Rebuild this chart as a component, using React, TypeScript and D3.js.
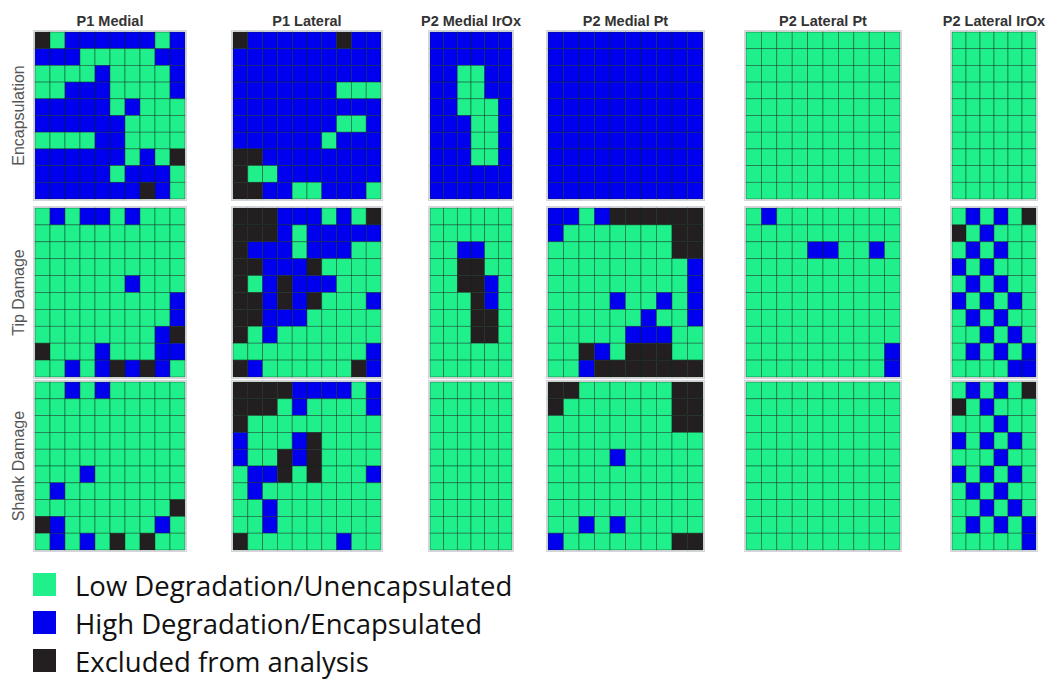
import React from 'react';
import * as d3 from 'd3';

// G = low degradation / unencapsulated, B = high degradation / encapsulated, K = excluded
const columns = ['P1 Medial', 'P1 Lateral', 'P2 Medial IrOx', 'P2 Medial Pt', 'P2 Lateral Pt', 'P2 Lateral IrOx'];
const measures = ['Encapsulation', 'Tip Damage', 'Shank Damage'];
const legendLabels = ['Low Degradation/Unencapsulated', 'High Degradation/Encapsulated', 'Excluded from analysis'];
const legendCodes = ['G', 'B', 'K'];

const p1MedialEnc = [
  'KGBBBBBBGB',
  'BBBGGGGGBB',
  'GGGGBGGGGB',
  'GGBBBGGGGB',
  'BBBBBGBGGG',
  'BBBBBBGGGG',
  'GGGGBBGGGG',
  'BBBBBBGBGK',
  'BBBBBGBBBG',
  'BBBBBBBKBG',
];
const p1MedialTip = [
  'GBGBBGBGGG',
  'GGGGGGGGGG',
  'GGGGGGGGGG',
  'GGGGGGGGGG',
  'GGGGGGBGGG',
  'GGGGGGGGGB',
  'GGGGGGGGGB',
  'GGGGGGGGBK',
  'KGGGBGGGBB',
  'GGBGBKBKBG',
];
const p1MedialShank = [
  'GGBGBGGGGG',
  'GGGGGGGGGG',
  'GGGGGGGGGG',
  'GGGGGGGGGG',
  'GGGGGGGGGG',
  'GGGBGGGGGG',
  'GBGGGGGGGG',
  'GGGGGGGGGK',
  'KBGGGGGGBG',
  'GBGBGKGKGG',
];
const p1LateralEnc = [
  'KBBBBBBKBB',
  'BBBBBBBBBB',
  'BBBBBBBBBB',
  'BBBBBBBGGG',
  'BBBBBBBBBB',
  'BBBBBBBGGB',
  'BBBBBBGBBB',
  'KKBBBBBBBB',
  'KGGBBBBBBB',
  'KKBBGGBBBG',
];
const p1LateralTip = [
  'KKKBBBGBGK',
  'KKKBGBBBBB',
  'KBBBGBBBGG',
  'KKBBBKGGGG',
  'KGBKBBBGGG',
  'KKBKBKGGGB',
  'KKBBBGGGGG',
  'KGBGGGGGGG',
  'GGGGGGGGGB',
  'KBGGGGGGKB',
];
const p1LateralShank = [
  'KKKKBBBBGB',
  'KKKGBGGGGB',
  'KGGGGGGGGG',
  'BGGGBKGGGG',
  'BGGKBKGGGG',
  'GBBKGKGGGB',
  'GBGGGGGGGG',
  'GGBGGGGGGG',
  'GGBGGGGGGG',
  'KGGGGGGBGG',
];
const p2MedialIrOxEnc = [
  'BBBBBB',
  'BBBBBB',
  'BBGGBB',
  'BBGGBB',
  'BBGGGB',
  'BBBGGB',
  'BBBGGB',
  'BBBGGB',
  'BBBBBB',
  'BBBBBB',
];
const p2MedialIrOxTip = [
  'GGGGGG',
  'GGGGGG',
  'GGBBGG',
  'GGKKGG',
  'GGKKBG',
  'GGGKBG',
  'GGGKKG',
  'GGGKKG',
  'GGGGGG',
  'GGGGGG',
];
const p2MedialIrOxShank = [
  'GGGGGG',
  'GGGGGG',
  'GGGGGG',
  'GGGGGG',
  'GGGGGG',
  'GGGGGG',
  'GGGGGG',
  'GGGGGG',
  'GGGGGG',
  'GGGGGG',
];
const p2MedialPtEnc = [
  'BBBBBBBBBB',
  'BBBBBBBBBB',
  'BBBBBBBBBB',
  'BBBBBBBBBB',
  'BBBBBBBBBB',
  'BBBBBBBBBB',
  'BBBBBBBBBB',
  'BBBBBBBBBB',
  'BBBBBBBBBB',
  'BBBBBBBBBB',
];
const p2MedialPtTip = [
  'BBGBKKKKKK',
  'BGGGGGGGKK',
  'GGGGGGGGKK',
  'GGGGGGGGGB',
  'GGGGGGGGGB',
  'GGGGBGGBGB',
  'GGGGGGBGGB',
  'GGGGGBBBGG',
  'GGKBGKKKGG',
  'GGBKKKKKKK',
];
const p2MedialPtShank = [
  'KKGGGGGGKK',
  'KGGGGGGGKK',
  'GGGGGGGGKK',
  'GGGGGGGGGG',
  'GGGGBGGGGG',
  'GGGGGGGGGG',
  'GGGGGGGGGG',
  'GGGGGGGGGG',
  'GGBGBGGGGG',
  'BGGGGGGGKK',
];
const p2LateralPtEnc = [
  'GGGGGGGGGG',
  'GGGGGGGGGG',
  'GGGGGGGGGG',
  'GGGGGGGGGG',
  'GGGGGGGGGG',
  'GGGGGGGGGG',
  'GGGGGGGGGG',
  'GGGGGGGGGG',
  'GGGGGGGGGG',
  'GGGGGGGGGG',
];
const p2LateralPtTip = [
  'GBGGGGGGGG',
  'GGGGGGGGGG',
  'GGGGBBGGBG',
  'GGGGGGGGGG',
  'GGGGGGGGGG',
  'GGGGGGGGGG',
  'GGGGGGGGGG',
  'GGGGGGGGGG',
  'GGGGGGGGGB',
  'GGGGGGGGGB',
];
const p2LateralPtShank = [
  'GGGGGGGGGG',
  'GGGGGGGGGG',
  'GGGGGGGGGG',
  'GGGGGGGGGG',
  'GGGGGGGGGG',
  'GGGGGGGGGG',
  'GGGGGGGGGG',
  'GGGGGGGGGG',
  'GGGGGGGGGG',
  'GGGGGGGGGG',
];
const p2LateralIrOxEnc = [
  'GGGGGG',
  'GGGGGG',
  'GGGGGG',
  'GGGGGG',
  'GGGGGG',
  'GGGGGG',
  'GGGGGG',
  'GGGGGG',
  'GGGGGG',
  'GGGGGG',
];
const p2LateralIrOxTip = [
  'GBGBGK',
  'KGBGGG',
  'GBGBGG',
  'BGBGGG',
  'GBGBGG',
  'BGBGBG',
  'GBGBGG',
  'GGBGBG',
  'GBGBGB',
  'GGGGBB',
];
const p2LateralIrOxShank = [
  'GBGBGK',
  'KGBGGG',
  'GGGBGG',
  'BGBGBG',
  'GGGBGG',
  'BGBGBG',
  'GBGBGG',
  'GGBGBG',
  'GBGBGB',
  'GGGGGB',
];

const grids = [
  [p1MedialEnc, p1LateralEnc, p2MedialIrOxEnc, p2MedialPtEnc, p2LateralPtEnc, p2LateralIrOxEnc],
  [p1MedialTip, p1LateralTip, p2MedialIrOxTip, p2MedialPtTip, p2LateralPtTip, p2LateralIrOxTip],
  [p1MedialShank, p1LateralShank, p2MedialIrOxShank, p2MedialPtShank, p2LateralPtShank, p2LateralIrOxShank],
];

const colors: Record<string, string> = { G: '#20f08c', B: '#0000ee', K: '#231f20' };

// panel layout
const colX = [35, 233, 430, 548, 746, 952];
const colW = [150, 148, 82, 155, 154, 84];
const rowY = [32, 208, 382];
const rowH = [167, 169, 168];

const Panel = ({ grid, x, y, w, h }: { grid: string[]; x: number; y: number; w: number; h: number }) => {
  const xs = d3.scaleBand<number>().domain(d3.range(grid[0].length)).range([x, x + w]);
  const ys = d3.scaleBand<number>().domain(d3.range(grid.length)).range([y, y + h]);
  return (
    <g>
      <rect x={x - 1.5} y={y - 1.5} width={w + 3} height={h + 3} fill="#fff" stroke="#d4d4dc" strokeWidth={1} />
      {grid.map((row, r) =>
        row.split('').map((c, i) => (
          <rect
            key={`${r}-${i}`}
            x={xs(i)}
            y={ys(r)}
            width={xs.bandwidth()}
            height={ys.bandwidth()}
            fill={colors[c]}
            stroke="#0b2a18"
            strokeOpacity={0.6}
            strokeWidth={0.7}
          />
        ))
      )}
    </g>
  );
};

const App = () => {
  return (
    <svg width={1050} height={679} style={{ position: 'absolute', left: 0, top: 0, background: '#fff' }}>
      {columns.map((c, ci) => (
        <text
          key={c}
          x={colX[ci] + colW[ci] / 2}
          y={26}
          textAnchor="middle"
          fontFamily="Liberation Sans, Arial, sans-serif"
          fontWeight="bold"
          fontSize={14.5}
          fill="#333"
        >
          {c}
        </text>
      ))}
      {measures.map((m, ri) => (
        <text
          key={m}
          transform={`translate(24,${rowY[ri] + rowH[ri] / 2}) rotate(-90)`}
          textAnchor="middle"
          fontFamily="Liberation Sans, Arial, sans-serif"
          fontSize={16}
          fill="#555"
        >
          {m}
        </text>
      ))}
      {grids.map((row, ri) =>
        row.map((g, ci) => <Panel key={`${ri}-${ci}`} grid={g} x={colX[ci]} y={rowY[ri]} w={colW[ci]} h={rowH[ri]} />)
      )}
      {legendLabels.map((l, i) => (
        <g key={l} transform={`translate(33,${573 + i * 38})`}>
          <rect width={23} height={23} fill={colors[legendCodes[i]]} />
          <text x={42} y={23} fontFamily="Open Sans, sans-serif" fontSize={27.5} fill="#111">
            {l}
          </text>
        </g>
      ))}
    </svg>
  );
};

export default App;
